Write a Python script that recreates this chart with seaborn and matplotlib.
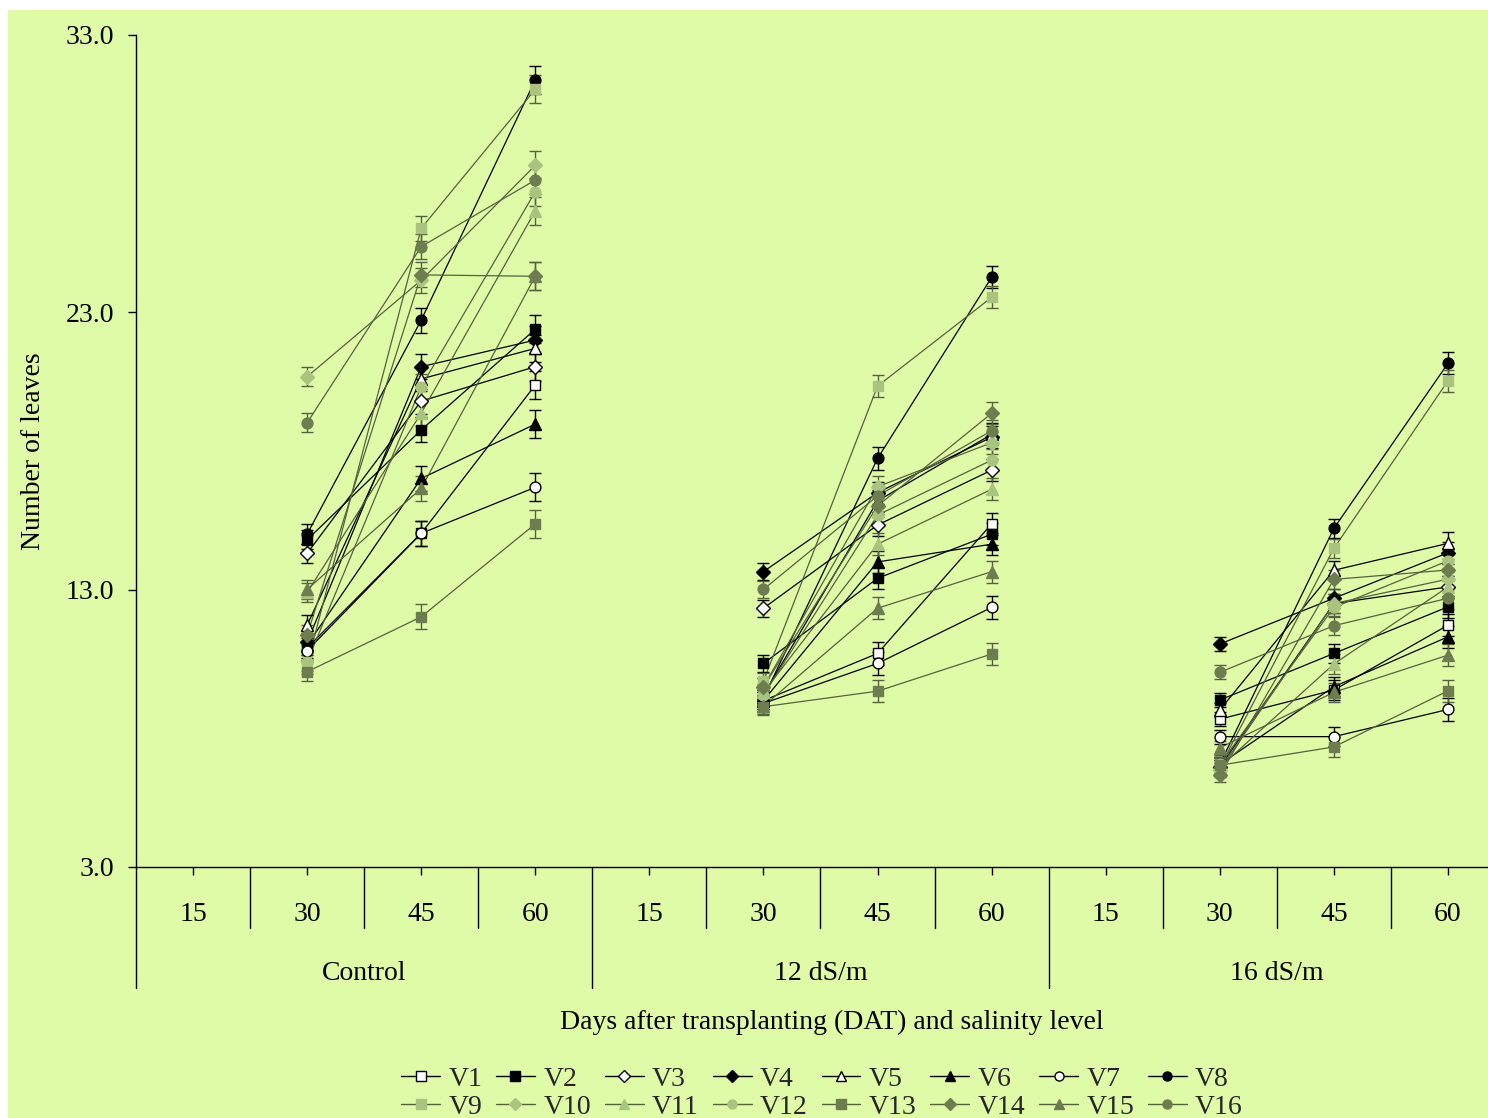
import numpy as np
import pandas as pd
import matplotlib
matplotlib.use("Agg")
import matplotlib.pyplot as plt
import matplotlib.transforms as mtransforms
from matplotlib.lines import Line2D
from matplotlib.patches import Rectangle
import seaborn as sns

# ---------------- data ----------------
groups = ["Control", "12 dS/m", "16 dS/m"]
day_labels = ["15", "30", "45", "60"]
data_days = ["30", "45", "60"]
y_ticks = [3.0, 13.0, 23.0, 33.0]
series_names = ["V%d" % i for i in range(1, 17)]

# values: Control 30,45,60 | 12 dS/m 30,45,60 | 16 dS/m 30,45,60
V1 = [10.9, 15.03, 20.38, 9.0, 10.7, 15.37, 8.33, 9.38, 11.72]
V2 = [14.8, 18.76, 22.39, 10.34, 13.41, 15.0, 9.02, 10.7, 12.38]
V3 = [14.31, 19.8, 21.04, 12.33, 15.33, 17.31, 6.6, 12.5, 13.1]
V4 = [11.1, 21.04, 22.0, 13.65, 16.5, 18.5, 11.04, 12.69, 14.33]
V5 = [11.72, 20.6, 21.7, 9.2, 16.2, 18.6, 8.66, 13.7, 14.67]
V6 = [11.0, 17.01, 18.97, 9.0, 14.0, 14.64, 6.7, 9.5, 11.3]
V7 = [10.8, 15.03, 16.69, 8.9, 10.34, 12.36, 7.7, 7.7, 8.68]
V8 = [15.0, 22.72, 31.38, 9.1, 17.73, 24.26, 6.7, 15.21, 21.16]
V9 = [10.3, 26.03, 31.04, 9.7, 20.34, 23.54, 6.6, 14.49, 20.53]
V10 = [20.68, 24.16, 28.3, 9.5, 16.71, 18.3, 6.5, 12.5, 13.38]
V11 = [12.9, 19.36, 26.66, 9.3, 14.64, 16.62, 6.6, 10.32, 13.1]
V12 = [10.4, 20.32, 27.35, 9.2, 15.69, 17.67, 6.7, 12.36, 14.04]
V13 = [10.04, 12.02, 15.37, 8.78, 9.34, 10.68, 6.67, 7.33, 9.35]
V14 = [11.36, 24.35, 24.3, 9.5, 16.02, 19.36, 6.31, 13.37, 13.71]
V15 = [13.01, 16.65, 24.3, 8.8, 12.33, 13.65, 7.3, 9.3, 10.64]
V16 = [19.02, 25.37, 27.77, 13.01, 16.38, 18.73, 10.02, 11.7, 12.69]
errors = [0.35, 0.45, 0.5, 0.3, 0.4, 0.4, 0.25, 0.35, 0.4]

values = [V1, V2, V3, V4, V5, V6, V7, V8, V9, V10, V11, V12, V13, V14, V15, V16]

# ---------------- styles ----------------
BG = "#E0FBA8"
LIGHT = "#A9C47F"
OLIVE = "#6E7D50"
LINE_DARK = "#000000"
LINE_OLIVE = "#56613F"
styles = {}
for i, name in enumerate(series_names):
    m = ["s", "D", "^", "o"][(i // 2) % 4] if i < 8 else ["s", "D", "^", "o"][(i - 8) % 4]
    if i < 8:
        face = "white" if i % 2 == 0 else "black"
        edge = "black"
        lcol = LINE_DARK
    elif i < 12:
        face = edge = LIGHT
        lcol = LINE_OLIVE
    else:
        face = edge = OLIVE
        lcol = LINE_OLIVE
    styles[name] = dict(marker=m, face=face, edge=edge, line=lcol)

rows = []
for name, vals in zip(series_names, values):
    for k, v in enumerate(vals):
        g = k // 3
        d = k % 3
        pos = g * 4 + (d + 1)
        rows.append(dict(series=name, group=groups[g], day=data_days[d],
                         pos=pos, value=v, err=errors[k]))
df = pd.DataFrame(rows)

# ---------------- figure ----------------
sns.set_theme(style="white")
plt.rcParams["font.family"] = ["Liberation Serif", "DejaVu Serif"]

fig = plt.figure(figsize=(14.88, 11.18), dpi=100, facecolor="white")
fig.patches.append(Rectangle((8 / 1488, 0), 1, 1 - 10 / 1118, transform=fig.transFigure,
                             facecolor=BG, edgecolor="none", zorder=-10))
ax = fig.add_axes([136 / 1488, 251 / 1118, 1369 / 1488, 832 / 1118])
ax.set_facecolor("none")

line_palette = {n: styles[n]["line"] for n in series_names}
sns.lineplot(data=df, x="pos", y="value", hue="series", units="group",
             estimator=None, palette=line_palette, legend=False,
             linewidth=0.9, sort=False, ax=ax, zorder=2)

for name in series_names:
    sub = df[df.series == name]
    st = styles[name]
    ms = {"s": 7.8, "D": 6.8, "^": 8.3, "o": 7.8}[st["marker"]]
    ax.errorbar(sub.pos, sub.value, yerr=sub.err, fmt=st["marker"], ms=ms,
                mfc=st["face"], mec=st["edge"], mew=1.0,
                ecolor=st["line"], elinewidth=1.0, capsize=4.5, capthick=1.0,
                linestyle="none", zorder=3)

ax.set_xlim(-0.5, 11.5)
ax.set_ylim(3, 33)
ax.set_yticks(y_ticks)
ax.set_yticklabels(["%.1f" % t for t in y_ticks])
ax.set_xticks(range(12))
ax.set_xticklabels(day_labels * 3)
for s in ["top", "right"]:
    ax.spines[s].set_visible(False)
for s in ["left", "bottom"]:
    ax.spines[s].set_color("black")
    ax.spines[s].set_linewidth(1.0)
ax.tick_params(axis="y", direction="out", length=6, width=1, pad=10,
               labelsize=20, colors="black", left=True)
ax.tick_params(axis="x", direction="out", length=6, width=1, pad=19,
               labelsize=20, colors="black", bottom=True)
ax.grid(False)

trans = mtransforms.blended_transform_factory(ax.transData, ax.transAxes)
for g in range(3):
    for k in range(1, 4):
        xb = g * 4 + k - 0.5
        ax.plot([xb, xb], [0, -61 / 832], transform=trans, color="black",
                lw=1.0, clip_on=False)
for xb in [-0.5, 3.5, 7.5, 11.5]:
    ax.plot([xb, xb], [0, -121 / 832], transform=trans, color="black",
            lw=1.0, clip_on=False)
for g, name in enumerate(groups):
    ax.text(g * 4 + 1.5, -106 / 832, name, transform=trans, ha="center",
            va="center", fontsize=20, color="black")

ax.set_ylabel("Number of leaves", fontsize=20, color="black")
ax.yaxis.set_label_coords(-0.066, 0.5)
ax.set_xlabel("Days after transplanting (DAT) and salinity level",
              fontsize=20, color="black")
ax.xaxis.set_label_coords(0.508, -143 / 832)

# legend
handles = {}
for name in series_names:
    st = styles[name]
    handles[name] = Line2D([], [], color=st["line"], lw=1.0, marker=st["marker"],
                           ms=6.5 if st["marker"] != "D" else 6,
                           mfc=st["face"], mec=st["edge"], mew=1.0)
order = []
for i in range(8):
    order += [series_names[i], series_names[i + 8]]
leg = ax.legend([handles[n] for n in order], order, ncol=8, loc="center",
                bbox_to_anchor=(822 / 1488, 25 / 1118), bbox_transform=fig.transFigure,
                frameon=False, fontsize=20, handlelength=1.4, handletextpad=0.3,
                columnspacing=0.5, labelspacing=0.1, borderpad=0)

fig.savefig("out.png", dpi=100, facecolor="white")
